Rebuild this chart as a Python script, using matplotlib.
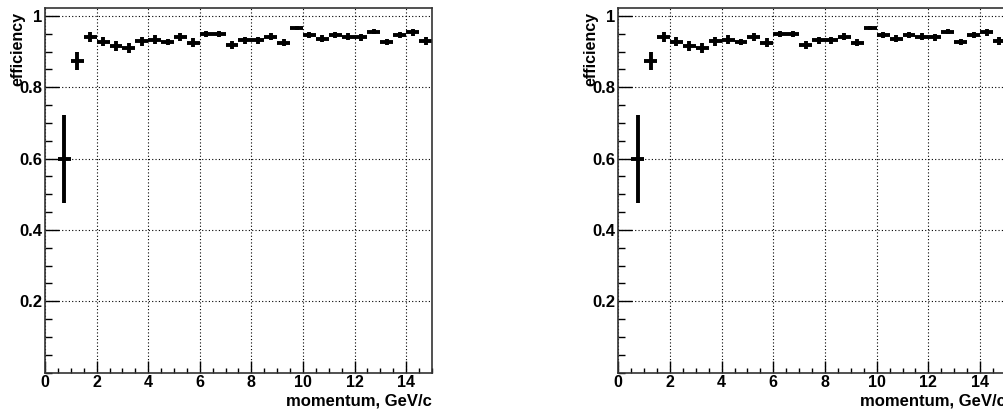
import numpy as np
import matplotlib
matplotlib.use("Agg")
import matplotlib.pyplot as plt
from matplotlib.ticker import MultipleLocator, FixedLocator

# bin centres (momentum, GeV/c), bin half width 0.25
momentum = [0.75, 1.25, 1.75, 2.25, 2.75, 3.25, 3.75, 4.25, 4.75, 5.25,
            5.75, 6.25, 6.75, 7.25, 7.75, 8.25, 8.75, 9.25, 9.75, 10.25,
            10.75, 11.25, 11.75, 12.25, 12.75, 13.25, 13.75, 14.25, 14.75]
efficiency = [0.598, 0.874, 0.942, 0.928, 0.916, 0.911, 0.929, 0.933, 0.926, 0.940,
              0.925, 0.950, 0.950, 0.918, 0.931, 0.932, 0.941, 0.925, 0.966, 0.946,
              0.936, 0.947, 0.942, 0.940, 0.956, 0.926, 0.946, 0.954, 0.930]
eff_err = [0.123, 0.026, 0.014, 0.013, 0.014, 0.014, 0.013, 0.012, 0.009, 0.011,
           0.012, 0.008, 0.008, 0.012, 0.010, 0.010, 0.010, 0.010, 0.006, 0.009,
           0.009, 0.009, 0.010, 0.010, 0.006, 0.009, 0.009, 0.010, 0.011]
bin_half = [0.25] * len(momentum)

y_ticks = [0.2, 0.4, 0.6, 0.8, 1.0]
y_tick_labels = ["0.2", "0.4", "0.6", "0.8", "1"]
x_ticks = [0, 2, 4, 6, 8, 10, 12, 14]

plt.rcParams['font.family'] = ['Liberation Sans', 'DejaVu Sans']
plt.rcParams['font.weight'] = 'bold'


def drawPanel(ax):
    ax.errorbar(momentum, efficiency, yerr=eff_err, xerr=bin_half,
                fmt='none', ecolor='black', elinewidth=2.8, capsize=0)
    ax.set_xlim(0, 15)
    ax.set_ylim(0, 1.022)

    ax.xaxis.set_major_locator(FixedLocator(x_ticks))
    ax.xaxis.set_minor_locator(MultipleLocator(0.5))
    ax.set_xticklabels([str(t) for t in x_ticks], fontsize=11.5, fontweight='bold')
    ax.yaxis.set_major_locator(FixedLocator(y_ticks))
    ax.yaxis.set_minor_locator(MultipleLocator(0.05))
    ax.set_yticklabels(y_tick_labels, fontsize=12, fontweight='bold')

    ax.tick_params(axis='x', which='major', direction='in', length=8.4, width=1, pad=2)
    ax.tick_params(axis='x', which='minor', direction='in', length=3.6, width=1)
    ax.tick_params(axis='y', which='major', direction='in', length=10, width=1, pad=2)
    ax.tick_params(axis='y', which='minor', direction='in', length=5, width=1)

    ax.grid(True, which='major', color='black', linestyle=(0, (1, 2)), linewidth=0.8)
    for s in ax.spines.values():
        s.set_color('#333333')
        s.set_linewidth(1.2)

    ax.set_xlabel("momentum, GeV/c", fontsize=12, fontweight='bold', loc='right')
    ax.xaxis.set_label_coords(1.0, -0.057)
    ax.set_ylabel("efficiency", fontsize=11.5, fontweight='bold', loc='top')
    ax.yaxis.set_label_coords(-0.052, 0.99)


fig = plt.figure(figsize=(10.04, 4.12), dpi=100)
ax1 = fig.add_axes([45 / 1004, 39.4 / 412, 387 / 1004, 364.6 / 412])
ax2 = fig.add_axes([618.3 / 1004, 39.4 / 412, 387.6 / 1004, 364.6 / 412])
drawPanel(ax1)
drawPanel(ax2)

fig.savefig("out.png", dpi=100)
